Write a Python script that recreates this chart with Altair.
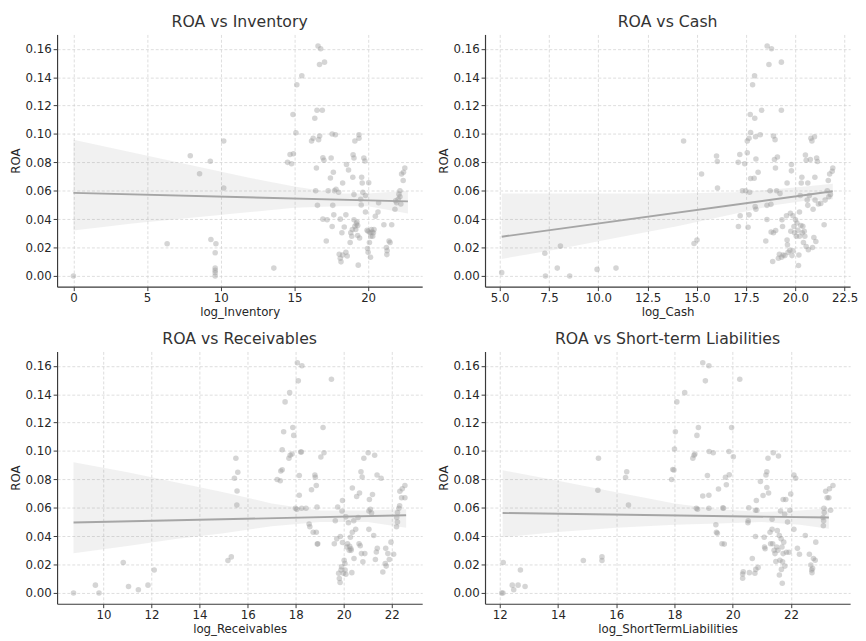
import altair as alt
import pandas as pd

# ---------------- data ----------------
inv_points = [
    (0, 0.000), (6.36, 0.0226), (7.93, 0.0847), (8.56, 0.072), (9.29, 0.0808), (9.33, 0.0256),
    (9.67, 0.0226), (9.62, 0.0163), (9.62, 0.0055), (9.62, 0.0039), (9.62, 0.0023), (9.62, 0.000),
    (10.2, 0.095), (10.2, 0.062), (13.6, 0.0055), (14.53, 0.080), (14.7, 0.0856), (14.8, 0.079),
    (14.93, 0.086), (14.9, 0.1137), (15.1, 0.1008), (15.16, 0.1347), (15.5, 0.141), (16.16, 0.095),
    (16.27, 0.097), (16.38, 0.111), (16.53, 0.1167), (16.6, 0.162), (16.78, 0.160), (16.7, 0.149),
    (17.04, 0.1506), (16.89, 0.1167), (16.49, 0.076), (16.44, 0.060), (16.56, 0.0497), (16.64, 0.096),
    (16.71, 0.0985), (16.93, 0.0833), (17.0, 0.0815), (16.93, 0.040), (17.16, 0.0246), (17.22, 0.0396),
    (17.29, 0.060), (17.44, 0.069), (17.49, 0.083), (17.56, 0.100), (17.64, 0.073), (17.78, 0.0995),
    (17.6, 0.0497), (17.67, 0.043), (17.56, 0.0348), (17.71, 0.060), (17.82, 0.061), (18.0, 0.059),
    (18.11, 0.040), (18.04, 0.0152), (18.11, 0.0124), (18.16, 0.0099), (18.27, 0.0147), (18.22, 0.0304),
    (18.38, 0.0345), (18.27, 0.0654), (18.49, 0.043), (18.53, 0.0785), (18.58, 0.014), (18.49, 0.0166),
    (18.67, 0.0746), (18.78, 0.0235), (18.82, 0.0304), (18.89, 0.028), (18.93, 0.0327), (18.96, 0.0695),
    (18.98, 0.0854), (19.04, 0.083), (19.04, 0.0573), (19.1, 0.095), (19.04, 0.0396), (19.1, 0.035),
    (19.16, 0.0327), (19.2, 0.0366), (19.24, 0.038), (19.29, 0.0285), (19.29, 0.0355), (19.33, 0.0076),
    (19.38, 0.0995), (19.38, 0.097), (19.42, 0.0267), (19.49, 0.054), (19.53, 0.050), (19.56, 0.0695),
    (19.6, 0.0654), (19.64, 0.059), (19.71, 0.083), (19.78, 0.081), (19.82, 0.0566), (19.82, 0.045),
    (19.93, 0.0322), (19.96, 0.0193), (20.0, 0.0166), (20.0, 0.0315), (20.04, 0.0656), (20.09, 0.0235),
    (20.13, 0.0304), (20.16, 0.0131), (20.18, 0.028), (20.22, 0.0327), (20.27, 0.031), (20.31, 0.028),
    (20.36, 0.0304), (20.4, 0.0327), (20.49, 0.042), (20.67, 0.045), (20.71, 0.0516), (21.07, 0.036),
    (21.24, 0.020), (21.27, 0.015), (21.29, 0.0177), (21.42, 0.0246), (21.49, 0.0235), (21.6, 0.036),
    (21.82, 0.047), (21.87, 0.053), (21.93, 0.0516), (22.04, 0.054), (22.09, 0.0576), (22.16, 0.060),
    (22.16, 0.0557), (22.22, 0.0507), (22.27, 0.0718), (22.38, 0.0672), (22.4, 0.073), (22.49, 0.076),
]

cash_points = [
    (5.1, 0.0023), (7.29, 0.016), (7.32, 0.000), (7.92, 0.0055), (8.08, 0.021), (8.55, 0.000),
    (9.94, 0.0046), (10.9, 0.0055), (14.33, 0.095), (14.86, 0.0228), (15.01, 0.0253), (15.24, 0.0718),
    (16.0, 0.0845), (16.04, 0.0806), (16.05, 0.062), (17.1, 0.080), (17.18, 0.0856), (17.11, 0.0348),
    (17.2, 0.0424), (17.31, 0.060), (17.43, 0.079), (17.48, 0.060), (17.56, 0.0868), (17.56, 0.095),
    (17.6, 0.0343), (17.65, 0.043), (17.65, 0.097), (17.68, 0.059), (17.71, 0.1137), (17.73, 0.0686),
    (17.73, 0.101), (17.83, 0.1347), (17.93, 0.141), (17.94, 0.111), (17.91, 0.0688), (17.96, 0.0488),
    (17.98, 0.098), (18.0, 0.047), (18.0, 0.0824), (18.11, 0.073), (18.22, 0.0995), (18.29, 0.1167),
    (18.5, 0.0246), (18.56, 0.0398), (18.56, 0.0497), (18.57, 0.162), (18.66, 0.149), (18.76, 0.0504),
    (18.79, 0.160), (18.72, 0.060), (18.77, 0.031), (18.85, 0.0101), (18.89, 0.0985), (18.89, 0.0304),
    (18.94, 0.082), (18.97, 0.096), (18.99, 0.076), (19.0, 0.032), (19.05, 0.060), (19.09, 0.0838),
    (19.14, 0.0124), (19.19, 0.0152), (19.22, 0.058), (19.29, 0.1506), (19.29, 0.1167), (19.3, 0.0131),
    (19.32, 0.0396), (19.35, 0.0348), (19.38, 0.0147), (19.47, 0.0143), (19.55, 0.0424), (19.58, 0.0654),
    (19.58, 0.0253), (19.6, 0.022), (19.63, 0.0166), (19.72, 0.018), (19.75, 0.0442), (19.77, 0.0315),
    (19.8, 0.074), (19.8, 0.0785), (19.83, 0.0143), (19.88, 0.0424), (19.88, 0.0177), (19.93, 0.0348),
    (19.96, 0.0304), (20.01, 0.0396), (20.05, 0.028), (20.08, 0.0373), (20.13, 0.0322), (20.16, 0.0074),
    (20.18, 0.0147), (20.21, 0.028), (20.21, 0.045), (20.25, 0.0566), (20.28, 0.0355), (20.3, 0.0654),
    (20.33, 0.0695), (20.35, 0.0304), (20.38, 0.035), (20.41, 0.0235), (20.45, 0.0315), (20.48, 0.028),
    (20.51, 0.0852), (20.55, 0.0207), (20.55, 0.0815), (20.6, 0.0534), (20.63, 0.0654), (20.63, 0.0497),
    (20.66, 0.0184), (20.71, 0.0566), (20.76, 0.082), (20.79, 0.097), (20.84, 0.095), (20.87, 0.020),
    (20.9, 0.047), (20.94, 0.027), (20.97, 0.098), (20.99, 0.0695), (21.0, 0.0534), (21.04, 0.0242),
    (21.08, 0.083), (21.12, 0.0806), (21.17, 0.0507), (21.29, 0.0511), (21.46, 0.036), (21.51, 0.0534),
    (21.62, 0.060), (21.67, 0.0672), (21.7, 0.0557), (21.74, 0.0718), (21.87, 0.0737), (21.9, 0.076),
    (21.78, 0.0573),
]

rec_points = [
    (8.75, 0.000), (9.66, 0.0055), (9.81, 0.000), (10.82, 0.0215), (11.04, 0.0046), (11.45, 0.0023),
    (11.85, 0.0055), (12.11, 0.0162), (15.18, 0.0229), (15.32, 0.0254), (15.45, 0.0808), (15.51, 0.0949),
    (15.56, 0.0718), (15.59, 0.085), (15.55, 0.0619), (17.23, 0.0799), (17.36, 0.079), (17.38, 0.0859),
    (17.44, 0.0868), (17.44, 0.1009), (17.5, 0.1136), (17.56, 0.1346), (17.72, 0.0949), (17.75, 0.1411),
    (17.77, 0.097), (17.85, 0.0979), (17.88, 0.1166), (17.92, 0.111), (17.99, 0.0596), (18.05, 0.0589),
    (18.07, 0.1621), (18.11, 0.1494), (18.15, 0.0688), (18.15, 0.0827), (18.21, 0.0993), (18.24, 0.0993),
    (18.26, 0.160), (18.25, 0.0596), (18.43, 0.0596), (18.56, 0.0485), (18.59, 0.0466), (18.66, 0.0727),
    (18.73, 0.0427), (18.8, 0.0831), (18.82, 0.0815), (18.86, 0.0757), (18.86, 0.0427), (18.89, 0.0605),
    (18.92, 0.0346), (18.9, 0.0344), (19.05, 0.0958), (19.14, 0.1166), (19.18, 0.0988), (19.49, 0.1505),
    (19.61, 0.0346), (19.65, 0.0508), (19.71, 0.0381), (19.75, 0.0605), (19.79, 0.0139), (19.82, 0.0102),
    (19.85, 0.0074), (19.86, 0.0397), (19.89, 0.0162), (19.91, 0.0185), (19.93, 0.0577), (19.95, 0.0651),
    (19.95, 0.0356), (19.99, 0.0139), (20.02, 0.0231), (20.05, 0.0208), (20.06, 0.0162), (20.09, 0.0132),
    (20.09, 0.0536), (20.13, 0.0323), (20.16, 0.0346), (20.2, 0.0494), (20.23, 0.030), (20.25, 0.0328),
    (20.28, 0.0393), (20.3, 0.0312), (20.31, 0.030), (20.34, 0.0143), (20.36, 0.0427), (20.36, 0.0739),
    (20.42, 0.0508), (20.43, 0.0242), (20.5, 0.0448), (20.54, 0.0679), (20.6, 0.0531), (20.64, 0.0346),
    (20.66, 0.0704), (20.69, 0.0332), (20.72, 0.0854), (20.74, 0.0277), (20.77, 0.0817), (20.8, 0.0219),
    (20.84, 0.0949), (20.88, 0.0277), (21.02, 0.0988), (21.05, 0.0577), (21.05, 0.0448), (21.07, 0.0658),
    (21.11, 0.0589), (21.16, 0.0563), (21.2, 0.0693), (21.25, 0.0404), (21.29, 0.097), (21.32, 0.0236),
    (21.36, 0.0289), (21.39, 0.0831), (21.4, 0.0314), (21.56, 0.0808), (21.63, 0.0148), (21.73, 0.0208),
    (21.75, 0.0314), (21.77, 0.0189), (21.84, 0.0277), (21.9, 0.0236), (21.97, 0.0358), (22.08, 0.0272),
    (22.2, 0.0466), (22.21, 0.0531), (22.24, 0.0499), (22.24, 0.0566), (22.3, 0.0596), (22.33, 0.0614),
    (22.34, 0.0716), (22.41, 0.067), (22.44, 0.0734), (22.55, 0.0757), (22.55, 0.067),
]

stl_points = [
    (12.07, 0.000), (12.11, 0.000), (12.12, 0.0215), (12.43, 0.0055), (12.48, 0.0023), (12.63, 0.0055),
    (12.71, 0.0162), (12.87, 0.0046), (14.87, 0.0229), (15.39, 0.0949), (15.37, 0.0723), (15.51, 0.0254),
    (15.51, 0.0229), (16.32, 0.0813), (16.36, 0.0854), (16.42, 0.0619), (17.9, 0.0799), (17.94, 0.087),
    (17.98, 0.0866), (18.0, 0.1014), (18.03, 0.1136), (18.08, 0.1346), (18.35, 0.1411), (18.63, 0.0949),
    (18.67, 0.097), (18.7, 0.0979), (18.75, 0.0596), (18.77, 0.111), (18.79, 0.0589), (18.82, 0.1166),
    (18.97, 0.0683), (18.97, 0.1621), (19.06, 0.1494), (19.13, 0.0827), (19.18, 0.160), (19.18, 0.0688),
    (19.18, 0.0596), (19.19, 0.0997), (19.33, 0.0988), (19.42, 0.048), (19.44, 0.0427), (19.47, 0.042),
    (19.51, 0.0732), (19.63, 0.0346), (19.71, 0.0344), (19.66, 0.060), (19.68, 0.0596), (19.75, 0.0815),
    (19.78, 0.0762), (19.88, 0.0833), (19.87, 0.0997), (19.96, 0.1166), (20.02, 0.096), (20.24, 0.1505),
    (20.34, 0.0134), (20.34, 0.0104), (20.36, 0.015), (20.52, 0.0494), (20.53, 0.0508), (20.55, 0.060),
    (20.57, 0.0143), (20.67, 0.0242), (20.76, 0.0139), (20.78, 0.0582), (20.78, 0.0397), (20.79, 0.0166),
    (20.81, 0.0651), (20.83, 0.0582), (20.87, 0.018), (20.95, 0.0785), (21.04, 0.0686), (21.08, 0.0393),
    (21.09, 0.0323), (21.11, 0.0312), (21.14, 0.0831), (21.17, 0.0743), (21.17, 0.0854), (21.21, 0.0949),
    (21.23, 0.0704), (21.28, 0.0427), (21.3, 0.0346), (21.35, 0.0519), (21.35, 0.0448), (21.37, 0.0346),
    (21.39, 0.0988), (21.42, 0.030), (21.45, 0.0277), (21.48, 0.0222), (21.51, 0.0323), (21.53, 0.0439),
    (21.55, 0.030), (21.57, 0.0965), (21.6, 0.0404), (21.6, 0.0127), (21.62, 0.0231), (21.64, 0.0577),
    (21.66, 0.0381), (21.67, 0.0166), (21.69, 0.0323), (21.7, 0.0069), (21.71, 0.0219), (21.73, 0.0658),
    (21.73, 0.0277), (21.75, 0.0358), (21.78, 0.0554), (21.79, 0.0189), (21.82, 0.0658), (21.84, 0.0286),
    (21.88, 0.0499), (21.93, 0.0286), (21.96, 0.0582), (21.99, 0.0697), (22.1, 0.0448), (22.1, 0.0831),
    (22.16, 0.0808), (22.22, 0.0314), (22.29, 0.0272), (22.49, 0.0404), (22.63, 0.0272), (22.68, 0.0196),
    (22.71, 0.0162), (22.72, 0.0143), (22.74, 0.0173), (22.77, 0.0242), (22.83, 0.0231), (22.85, 0.0358),
    (23.11, 0.0473), (23.1, 0.0531), (23.12, 0.0508), (23.13, 0.0596), (23.14, 0.0566), (23.19, 0.0716),
    (23.24, 0.067), (23.3, 0.067), (23.32, 0.0734), (23.36, 0.0582), (23.44, 0.0757),
]

# regression fit line end points (x, y)
inv_line = [(0.0, 0.0585), (22.7, 0.0525)]
cash_line = [(5.1, 0.0276), (21.9, 0.0596)]
rec_line = [(8.75, 0.0496), (22.6, 0.0547)]
stl_line = [(12.1, 0.0563), (23.3, 0.0531)]

# confidence band (x, lower, upper)
inv_band = [(0.0, 0.032, 0.096), (4, 0.037, 0.087), (8, 0.041, 0.078), (12, 0.045, 0.069),
            (15, 0.048, 0.063), (18, 0.049, 0.058), (20, 0.049, 0.058), (22.7, 0.044, 0.060)]
cash_band = [(5.1, 0.012, 0.058), (8, 0.019, 0.058), (11, 0.027, 0.058), (14, 0.035, 0.058),
             (17, 0.044, 0.059), (19, 0.050, 0.061), (20.5, 0.053, 0.063), (21.9, 0.054, 0.065)]
rec_band = [(8.75, 0.028, 0.092), (11, 0.033, 0.085), (13, 0.038, 0.078), (15, 0.042, 0.071),
            (17, 0.047, 0.063), (19, 0.050, 0.058), (21, 0.050, 0.058), (22.6, 0.046, 0.059)]
stl_band = [(12.1, 0.0393, 0.0864), (14, 0.043, 0.079), (16, 0.046, 0.071), (18, 0.048, 0.063),
            (19.5, 0.049, 0.059), (21, 0.050, 0.057), (22.3, 0.048, 0.058), (23.3, 0.0453, 0.0596)]

titles = ["ROA vs Inventory", "ROA vs Cash", "ROA vs Receivables", "ROA vs Short-term Liabilities"]
x_titles = ["log_Inventory", "log_Cash", "log_Receivables", "log_ShortTermLiabilities"]
x_domains = [(-1.11, 23.67), (4.254, 22.78), (8.064, 23.27), (11.495, 24.03)]
x_ticks = [[0, 5, 10, 15, 20],
           [5.0, 7.5, 10.0, 12.5, 15.0, 17.5, 20.0, 22.5],
           [10, 12, 14, 16, 18, 20, 22],
           [12, 14, 16, 18, 20, 22]]
x_formats = ["d", ".1f", "d", "d"]
y_ticks = [0.00, 0.02, 0.04, 0.06, 0.08, 0.10, 0.12, 0.14, 0.16]
y_domain = (-0.0076, 0.1701)

W, H = 372, 257


def panel(i, pts, line, band):
    dp = pd.DataFrame(pts, columns=["x", "roa"])
    dl = pd.DataFrame(line, columns=["x", "roa"])
    db = pd.DataFrame(band, columns=["x", "lo", "hi"])
    xs = alt.Scale(domain=list(x_domains[i]), nice=False, zero=False)
    ys = alt.Scale(domain=list(y_domain), nice=False, zero=False)
    xax = alt.Axis(values=x_ticks[i], format=x_formats[i], title=x_titles[i])
    yax = alt.Axis(values=y_ticks, format=".2f", title="ROA")

    pts_layer = alt.Chart(dp).mark_circle(size=32, color="#9a9a9a", opacity=0.42).encode(
        x=alt.X("x:Q", scale=xs, axis=xax),
        y=alt.Y("roa:Q", scale=ys, axis=yax),
    )
    band_layer = alt.Chart(db).mark_area(color="#8c8c8c", opacity=0.12).encode(
        x=alt.X("x:Q", scale=xs, axis=xax),
        y=alt.Y("lo:Q", scale=ys, axis=yax),
        y2="hi:Q",
    )
    line_layer = alt.Chart(dl).mark_line(color="#a6a6a6", strokeWidth=2).encode(
        x=alt.X("x:Q", scale=xs, axis=xax),
        y=alt.Y("roa:Q", scale=ys, axis=yax),
    )
    return alt.layer(pts_layer, band_layer, line_layer).properties(
        width=W, height=H, title=titles[i]
    )


p1 = panel(0, inv_points, inv_line, inv_band)
p2 = panel(1, cash_points, cash_line, cash_band)
p3 = panel(2, rec_points, rec_line, rec_band)
p4 = panel(3, stl_points, stl_line, stl_band)

chart = alt.vconcat(
    alt.hconcat(p1, p2, spacing=15),
    alt.hconcat(p3, p4, spacing=15),
    spacing=14,
).properties(
    padding={"left": 1, "top": 0, "right": 0, "bottom": 0}
).configure_view(
    strokeOpacity=0
).configure_axis(
    labelFont="DejaVu Sans", titleFont="DejaVu Sans",
    labelFontSize=12, titleFontSize=12,
    labelColor="#262626", titleColor="#262626",
    titleFontWeight="normal",
    domainColor="#3a3a3a", tickColor="#3a3a3a", domainWidth=1.2,
    tickSize=4, labelPadding=2, titlePadding=3,
    gridColor="#cfcfcf", gridDash=[3, 2], gridWidth=0.7,
).configure_title(
    font="DejaVu Sans", fontSize=16, fontWeight="normal", color="#333333",
    offset=5, anchor="middle", frame="group",
)

chart.save("out.html", embed_options={"renderer": "svg", "actions": False})
